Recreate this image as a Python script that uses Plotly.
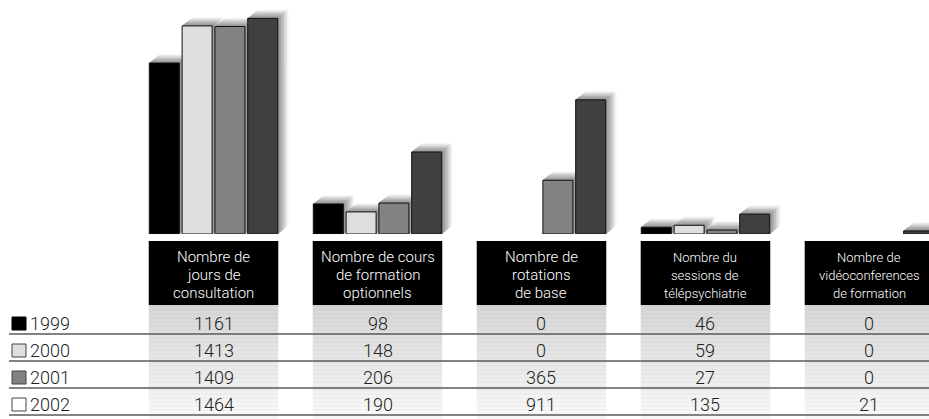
import plotly.graph_objects as go

# ---------------- data ----------------
header_lines = [
    ["Nombre de", "jours de", "consultation"],
    ["Nombre de cours", "de formation", "optionnels"],
    ["Nombre de", "rotations", "de base"],
    ["Nombre du", "sessions de", "télépsychiatrie"],
    ["Nombre de", "vidéoconferences", "de formation"],
]
years = ["1999", "2000", "2001", "2002"]

# values printed in the table
table_1999 = [1161, 98, 0, 46, 0]
table_2000 = [1413, 148, 0, 59, 0]
table_2001 = [1409, 206, 365, 27, 0]
table_2002 = [1464, 190, 911, 135, 21]

# bar heights as drawn in the picture
bars_1999 = [1161, 204, 0, 46, 0]
bars_2000 = [1413, 150, 0, 59, 0]
bars_2001 = [1409, 210, 365, 27, 0]
bars_2002 = [1464, 557, 911, 135, 21]

# ---------------- style ----------------
W, H = 929, 419
FONT = "Roboto, Liberation Sans, Arial"
bar_colors = ["#000000", "#dedede", "#828282", "#404040"]
legend_fill = ["#000000", "#dedede", "#828282", "#ffffff"]
table_rows = [table_1999, table_2000, table_2001, table_2002]
bar_rows = [bars_1999, bars_2000, bars_2001, bars_2002]

base_px = 234                      # pixel row of the bar baseline
y_top = 1589                       # data value at the top of the window
x_lo, x_hi = -1.302, 4.363         # category axis range
slot = 0.2
bw = 0.183


def py(px):
    return 1 - px / H


def px_to_dx(p):
    return p * (x_hi - x_lo) / W


def px_to_dy(p):
    return p * y_top / base_px


fig = go.Figure()
shapes = []
annotations = []
ncat = len(header_lines)
xs = list(range(ncat))

# shadows (drawn below the bars)
DXP, DYP = 11, 9
NL = 7
for j, vals in enumerate(bar_rows):
    for i, v in enumerate(vals):
        if not v:
            continue
        x0 = i - 0.4 + slot * j + (slot - bw) / 2
        x1 = x0 + bw
        for k in range(NL, 0, -1):
            f = k / NL
            g = int(140 + (248 - 140) * (f ** 1.2))
            col = f"rgb({g},{g},{g})"
            dx = px_to_dx(DXP * f)
            dy = px_to_dy(DYP * f)
            path = (f"M {x0},{v} L {x0 + dx},{v + dy} L {x1 + dx},{v + dy} "
                    f"L {x1 + dx},{dy} L {x1},0 Z")
            shapes.append(dict(type="path", path=path, xref="x", yref="y",
                               fillcolor=col, line=dict(width=0), layer="below"))

# bars
for j, (yr, vals) in enumerate(zip(years, bar_rows)):
    fig.add_trace(go.Bar(
        x=xs, y=[v if v else None for v in vals], name=yr,
        width=bw, offset=-0.4 + slot * j + (slot - bw) / 2,
        marker=dict(color=bar_colors[j], line=dict(color="#111111", width=1)),
        showlegend=False, hoverinfo="skip"))

# table: header boxes, gray cells
cell_top, cell_bot = 305, 419
hw = 0.395
for i in range(ncat):
    shapes.append(dict(type="rect", xref="x", yref="paper",
                       x0=i - hw, x1=i + hw, y0=py(305), y1=py(241),
                       fillcolor="#000000", line=dict(width=0)))
    p = cell_top
    n = 0
    while p < cell_bot:
        t = (p - cell_top) / (cell_bot - cell_top)
        g = int(210 + (246 - 210) * t) + (5 if n % 2 else 0)
        g = min(g, 250)
        shapes.append(dict(type="rect", xref="x", yref="paper",
                           x0=i - hw, x1=i + hw, y0=py(min(p + 2, cell_bot)), y1=py(p),
                           fillcolor=f"rgb({g},{g},{g})", line=dict(width=0)))
        p += 2
        n += 1

# row separator lines
row_lines = [334, 361, 388, 415]
for ly in row_lines:
    shapes.append(dict(type="line", xref="paper", yref="paper",
                       x0=9 / W, x1=1, y0=py(ly), y1=py(ly),
                       line=dict(color="#5a5a5a", width=1.5)))

# header texts
line_y = [257, 275, 293]
for i, lines in enumerate(header_lines):
    size = 15 if i < 3 else 13
    for ln, yy in zip(lines, line_y):
        annotations.append(dict(x=i, y=py(yy), xref="x", yref="paper", text=ln,
                                showarrow=False, xanchor="center", yanchor="middle",
                                font=dict(family=FONT, size=size, color="#ffffff",
                                          weight=300)))

# table values and legend rows
row_y = [323, 350, 377, 404]
for r, (yr, vals) in enumerate(zip(years, table_rows)):
    yy = row_y[r]
    for i, v in enumerate(vals):
        annotations.append(dict(x=i, y=py(yy), xref="x", yref="paper", text=str(v),
                                showarrow=False, xanchor="center", yanchor="middle",
                                font=dict(family=FONT, size=18, color="#222222",
                                          weight=300)))
    shapes.append(dict(type="rect", xref="paper", yref="paper",
                       x0=12 / W, x1=26 / W, y0=py(yy + 7), y1=py(yy - 6),
                       fillcolor=legend_fill[r],
                       line=dict(color="#000000" if r == 0 else "#444444", width=1)))
    annotations.append(dict(x=28 / W, y=py(yy), xref="paper", yref="paper", text=yr,
                            showarrow=False, xanchor="left", yanchor="middle",
                            font=dict(family=FONT, size=18, color="#222222",
                                      weight=300)))

fig.update_layout(
    width=W, height=H,
    margin=dict(l=0, r=0, t=0, b=0, pad=0),
    paper_bgcolor="#ffffff", plot_bgcolor="rgba(0,0,0,0)",
    barmode="overlay",
    xaxis=dict(range=[x_lo, x_hi], visible=False, fixedrange=True),
    yaxis=dict(range=[0, y_top], domain=[(H - base_px) / H, 1], visible=False,
               fixedrange=True),
    shapes=shapes, annotations=annotations,
    showlegend=False,
)

fig.write_html("out.html", config={"displayModeBar": False},
               post_script="document.body.style.margin='0';")
